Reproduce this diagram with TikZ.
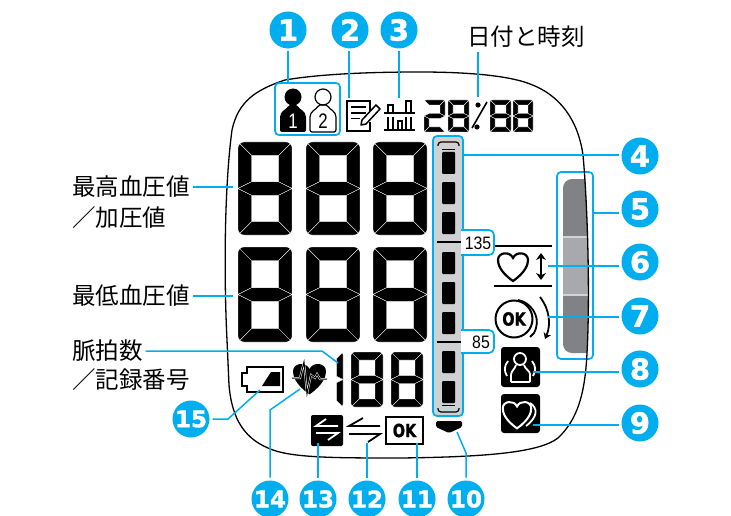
\documentclass[tikz,border=0pt]{standalone}
\usepackage{fontspec}
\setmainfont{Noto Sans CJK JP}
\newfontfamily\numfont{Liberation Sans}
\newfontfamily\badgefont[BoldFeatures={FakeBold=1.5}]{DejaVu Sans}
\usetikzlibrary{arrows, arrows.meta}
\definecolor{hicyan}{HTML}{00AEEF}
\definecolor{scalegray}{HTML}{CFD0D2}
\definecolor{bardark}{HTML}{808285}
\definecolor{barlight}{HTML}{A7A9AC}
\definecolor{bargap}{HTML}{D1D3D4}
\tikzstyle{badge} = [circle, fill=hicyan, text=white, minimum size=37pt, inner sep=0pt, outer sep=3pt, font=\badgefont\bfseries\fontsize{29}{29}\selectfont]
\tikzstyle{badgewide} = [badge, font=\badgefont\bfseries\fontsize{23}{23}\selectfont]
\tikzstyle{caption} = [anchor=west, inner sep=0pt, outer sep=3pt, font=\fontsize{23.5}{24}\selectfont]
\tikzstyle{leader} = [draw=hicyan, line width=1.5pt]
\tikzstyle{hilite} = [draw=hicyan, line width=1.7pt, rounded corners=4pt]
\tikzstyle{edge} = [line width=2.2pt, {Stealth[length=7pt, width=10pt]}-{Stealth[length=7pt, width=10pt]}]
\tikzstyle{lcd} = [fill=black, draw=white, line width=0.35pt]
% segments of one lcd digit
\newcommand{\sega}{\path[lcd] (0,0) -- (\digw,0) -- ({\digw-\digt},\digt) -- (\digt,\digt) -- cycle;}
\newcommand{\segb}{\path[lcd] (\digw,0) -- (\digw,\digm) -- ({\digw-\digt},{\digm-\digt/2}) -- ({\digw-\digt},\digt) -- cycle;}
\newcommand{\segc}{\path[lcd] (\digw,\digm) -- (\digw,\digh) -- ({\digw-\digt},{\digh-\digt}) -- ({\digw-\digt},{\digm+\digt/2}) -- cycle;}
\newcommand{\segd}{\path[lcd] (0,\digh) -- (\digw,\digh) -- ({\digw-\digt},{\digh-\digt}) -- (\digt,{\digh-\digt}) -- cycle;}
\newcommand{\sege}{\path[lcd] (0,\digm) -- (0,\digh) -- (\digt,{\digh-\digt}) -- (\digt,{\digm+\digt/2}) -- cycle;}
\newcommand{\segf}{\path[lcd] (0,0) -- (0,\digm) -- (\digt,{\digm-\digt/2}) -- (\digt,\digt) -- cycle;}
\newcommand{\segg}{\path[lcd] (0,\digm) -- (\digt,{\digm-\digt/2}) -- ({\digw-\digt},{\digm-\digt/2}) -- (\digw,\digm) -- ({\digw-\digt},{\digm+\digt/2}) -- (\digt,{\digm+\digt/2}) -- cycle;}
\newcommand{\lcddigit}[6]{%
  \begin{scope}[shift={(#1,#2)}]
    \def\digw{#3}\def\digh{#4}\def\digt{#5}\pgfmathsetmacro{\digm}{#4/2}
    \clip[rounded corners=#5*0.5pt] (0,0) rectangle (\digw,\digh);
    \foreach \s in {#6} {\csname seg\s\endcsname}
  \end{scope}}
\newcommand{\heartshape}{(0,14) .. controls (-13,5) and (-15,-3) .. (-15,-7) .. controls (-15,-15) and (-3,-16) .. (0,-9) .. controls (3,-16) and (15,-15) .. (15,-7) .. controls (15,-3) and (13,5) .. (0,14) -- cycle}
\newcommand{\caseoutline}{(227,340) .. controls (224,280) and (224,190) .. (232,130) .. controls (238,102) and (255,90) .. (285,80) .. controls (320,74) and (370,72) .. (420,72) .. controls (470,72) and (510,76) .. (530,84) .. controls (560,95) and (578,120) .. (583,155) .. controls (588,210) and (590,300) .. (587,353) .. controls (585,395) and (577,420) .. (558,438) .. controls (540,452) and (490,457) .. (400,458) .. controls (340,458) and (295,458) .. (273,450) .. controls (245,440) and (232,420) .. (229,385) -- cycle}
\newcommand{\userbody}{(-13,35) -- (-13,22) .. controls (-13,14) and (-6,12) .. (-5,8) -- (5,8) .. controls (6,12) and (13,14) .. (13,22) -- (13,35) -- cycle}

\begin{document}
\begin{tikzpicture}[x=1pt, y=-1pt]
\useasboundingbox (0,0) rectangle (731,516);

% right hand gray bar
\node (armbox) [hilite, minimum width=36pt, minimum height=187pt] at (575,265.5) {};
\begin{scope}
\clip \caseoutline;
\fill[bardark, rounded corners=9pt] (563,179) rectangle (600,353);
\fill[bargap] (563,236) rectangle (600,296);
\fill[barlight] (563,238) rectangle (600,294);
\end{scope}
\draw[line width=1.3pt] \caseoutline;

% user icons
\node (userbox) [hilite, fill=white, minimum width=65pt, minimum height=52pt] at (307.5,109) {};
\begin{scope}[shift={(293,97)}]
\fill (0,0) circle (8.5);
\fill[rounded corners=2pt] \userbody;
\node (user1) [text=white, inner sep=0pt, font=\numfont\fontsize{21}{21}\selectfont] at (0,24) {\scalebox{0.8}[1]{1}};
\end{scope}
\begin{scope}[shift={(323,97)}]
\draw[line width=1.2pt] (0,0) circle (8);
\draw[line width=1.2pt, rounded corners=2pt] \userbody;
\node (user2) [inner sep=0pt, font=\numfont\fontsize{21}{21}\selectfont] at (0,24) {\scalebox{0.8}[1]{2}};
\end{scope}

% note icon
\draw[line width=1.8pt] (370,112) -- (370,101) -- (347,101) -- (347,131) -- (370,131) -- (370,122);
\draw[line width=1.8pt] (351,107) -- (366,107) (351,113) -- (366,113) (351,118.5) -- (360,118.5);
\draw[line width=5pt, white] (360,126) -- (381,104);
\draw[line width=1.5pt, fill=white, line join=round] (361,125) -- (362,120) -- (376,105) -- (380,109) -- (366,124) -- cycle;

% chart icon
\draw[line width=1.8pt] (384,113) -- (415,113) (384,130) -- (415,130);
\draw[line width=1.3pt] (388,113) -- (388,105) -- (393,105) -- (393,113) (406,113) -- (406,101) -- (411,101) -- (411,113);
\draw[line width=1.3pt] (388,130) -- (388,117) (393,130) -- (393,117) (398,130) -- (398,121) -- (402,121) -- (402,130) (406,130) -- (406,117) (411,130) -- (411,117);

% date and time
\lcddigit{424}{100}{21}{32}{5}{a,b,g,e,d}
\lcddigit{448}{100}{21}{32}{5}{a,b,c,d,e,f,g}
\lcddigit{490}{100}{21}{32}{5}{a,b,c,d,e,f,g}
\lcddigit{513}{100}{20}{32}{5}{a,b,c,d,e,f,g}
\draw[line width=1.6pt] (487,102) -- (472,128);
\fill (478,105) circle (2.6) (477,127) circle (2.6);

% blood pressure digits
\foreach \px in {238,306,373} {
  \lcddigit{\px}{142}{54}{93}{13.5}{a,b,c,d,e,f,g}
  \lcddigit{\px}{247}{54}{95}{13.5}{a,b,c,d,e,f,g}
}
% pulse digits
\lcddigit{336}{352}{7}{55}{6.5}{b,c}
\lcddigit{351}{352}{32}{55}{8}{a,b,c,d,e,f,g}
\lcddigit{391}{352}{32}{55}{8}{a,b,c,d,e,f,g}

% left hand scale
\node (scalebox) [hilite, fill=scalegray, minimum width=30pt, minimum height=280pt] at (448,276) {};
\draw[line width=1.2pt, rounded corners=3pt] (438,146) -- (438,142) -- (459,142) -- (459,146);
\draw[line width=1.2pt, rounded corners=3pt] (438,408) -- (438,412) -- (459,412) -- (459,408);
\draw[line width=0.9pt] (442,149) -- (455,149) (442,405) -- (455,405);
\foreach \cy in {152,182,212,252,282,312,351,381} {
  \fill[rounded corners=1pt] (442,\cy) rectangle (455,\cy+22);
}
\draw[line width=2pt] (437,242) -- (461,242) (437,342) -- (461,342);

% tabs of the scale
\draw[hilite, fill=white, rounded corners=5pt] (461,230) -- (494,230) -- (494,255) -- (461,255);
\draw[hilite, fill=white, rounded corners=5pt] (461,330) -- (494,330) -- (494,353) -- (461,353);
\node (t135) [inner sep=0pt, font=\numfont\fontsize{18}{18}\selectfont] at (478,243) {\scalebox{0.88}[1]{135}};
\node (t85) [inner sep=0pt, font=\numfont\fontsize{18}{18}\selectfont] at (481,342) {\scalebox{0.88}[1]{85}};

% heart with arrow
\draw[line width=2.2pt] (495,246) -- (552,246) (494,286) -- (552,286);
\begin{scope}[shift={(513,267)}]
\draw[line width=2.2pt] \heartshape;
\end{scope}
\draw[edge] (541,253) -- (541,280);

% ok icon
\node (okmark) [circle, draw, line width=2pt, minimum size=37pt, inner sep=0pt, font=\badgefont\bfseries\fontsize{18}{18}\selectfont] at (514,319) {\scalebox{0.8}[1]{OK}};
\draw[line width=1.8pt] (518,300) .. controls (530,302) and (540,315) .. (536,328) .. controls (535,332) and (533,335) .. (530,337);
\draw[line width=1.8pt, -{Stealth[length=6pt, width=8pt]}] (540,297) .. controls (550,310) and (551,325) .. (545,339);

% irregular pulse and movement icons
\fill[rounded corners=3pt] (501,347) rectangle (540,387);
\begin{scope}[white, line width=1.8pt]
\draw (520,359) circle (6);
\draw[rounded corners=1pt] (511,382) -- (530,382) -- (530,375) .. controls (530,371) and (525,369) .. (524,365);
\draw (511,382) -- (511,375) .. controls (511,371) and (515,369) .. (516,365);
\draw (508,361) .. controls (504,366) and (504,371) .. (507,376);
\draw (532,361) .. controls (536,366) and (536,371) .. (533,376);
\end{scope}
\fill[rounded corners=3pt] (501,394) rectangle (540,433);
\begin{scope}[shift={(517,415)}, scale=0.95]
\draw[white, line width=2pt] \heartshape;
\end{scope}
\draw[white, line width=1.8pt] (530,403) .. controls (538,408) and (538,417) .. (526,426);

% triangle under the scale
\fill[rounded corners=1.5pt] (436,421) -- (462,421) -- (462,427) -- (449,433) -- (436,427) -- cycle;

% bottom icons
\node (okbox) [draw, line width=1.8pt, minimum width=37pt, minimum height=27pt, inner sep=0pt, font=\badgefont\bfseries\fontsize{18}{18}\selectfont] at (404.5,430.5) {\scalebox{0.8}[1]{OK}};
\draw[line width=1.8pt] (380,426) -- (349,426) -- (363,418) (349,434) -- (380,434) -- (368,442);
\fill[rounded corners=2pt] (311,415) rectangle (343,446);
\draw[white, line width=1.8pt] (338,426) -- (316,426) -- (326,419) (316,433) -- (338,433) -- (328,440);

% heart with pulse wave
\begin{scope}[shift={(309.5,379)}, scale=1.1]
\fill \heartshape;
\end{scope}
\draw[white, line width=2pt] (292,378) -- (300,378) -- (304,362) -- (307,394) -- (311,375) -- (315,378) -- (317,374) -- (320,379) -- (327,379);
\draw[line width=1pt] (292,378) -- (300,378) -- (304,362) -- (307,394) -- (311,375) -- (315,378) -- (317,374) -- (320,379) -- (327,379);

% battery
\draw[line width=2.4pt] (283,367) -- (247,367) -- (247,373) -- (242,373) -- (242,386) -- (247,386) -- (247,392) -- (283,392) -- cycle;
\fill (262,386) -- (271,372) -- (280,372) -- (280,386) -- cycle;

% numbered circles
\node (1) [badge] at (288,30) {1};
\node (2) [badge] at (350,30) {2};
\node (3) [badge] at (399,30) {3};
\node (4) [badge] at (640,156) {4};
\node (5) [badge] at (640,209) {5};
\node (6) [badge] at (640,262) {6};
\node (7) [badge] at (640,316) {7};
\node (8) [badge] at (640,369) {8};
\node (9) [badge] at (640,423) {9};
\node (10) [badgewide] at (466,499) {10};
\node (11) [badgewide] at (417,499) {11};
\node (12) [badgewide] at (367,499) {12};
\node (13) [badgewide] at (318,499) {13};
\node (14) [badgewide] at (270,499) {14};
\node (15) [badgewide] at (191,419) {15};

% captions
\node (date) [anchor=center, inner sep=0pt, outer sep=4pt, font=\fontsize{23.5}{24}\selectfont] at (526,37) {日付と時刻};
\node (high) [caption] at (69,187) {最高血圧値};
\node (mean) [caption] at (69,218) {／加圧値};
\node (low) [caption] at (69,296) {最低血圧値};
\node (pulse) [caption] at (69,351) {脈拍数};
\node (memo) [caption] at (69,380) {／記録番号};

% leader ends
\coordinate (e1) at (288,83);
\coordinate (e2) at (349,98);
\coordinate (e3) at (399,98);
\coordinate (e4) at (463,155);
\coordinate (e5) at (593,213);
\coordinate (e6) at (548,266);
\coordinate (e7) at (548,317);
\coordinate (e8) at (533,372);
\coordinate (e9) at (533,425);
\coordinate (e10) at (457,432);
\coordinate (b10) at (466,453);
\coordinate (e11) at (417,443);
\coordinate (e12) at (367,443);
\coordinate (e13) at (318,443);
\coordinate (e14) at (300,389);
\coordinate (b14) at (270,410);
\coordinate (e15) at (260,390);
\coordinate (b15) at (228,419);
\coordinate (edate) at (478,97);
\coordinate (ehigh) at (233,187);
\coordinate (elow) at (233,296);
\coordinate (epulse) at (338,363);
\coordinate (bpulse) at (322,351);

% leaders
\draw [leader] (1.south) -- (e1);
\draw [leader] (e2 |- 2.south) -- (e2);
\draw [leader] (3.south) -- (e3);
\draw [leader] (e4) -- (e4 -| 4.west);
\draw [leader] (e5) -- (e5 -| 5.west);
\draw [leader] (e6) -- (e6 -| 6.west);
\draw [leader] (e7) -- (e7 -| 7.west);
\draw [leader] (e8) -- (e8 -| 8.west);
\draw [leader] (e9) -- (e9 -| 9.west);
\draw [leader] (e10) -- (b10) -- (10.north);
\draw [leader] (e11) -- (11.north);
\draw [leader] (e12) -- (12.north);
\draw [leader] (e13) -- (13.north);
\draw [leader] (e14) -- (b14) -- (14.north);
\draw [leader] (e15) -- (b15) -- (15.east);
\draw [leader] (edate |- date.south) -- (edate);
\draw [leader] (high.east) -- (ehigh);
\draw [leader] (low.east) -- (elow);
\draw [leader] (pulse.east) -- (bpulse) -- (epulse);

\end{tikzpicture}
\end{document}
